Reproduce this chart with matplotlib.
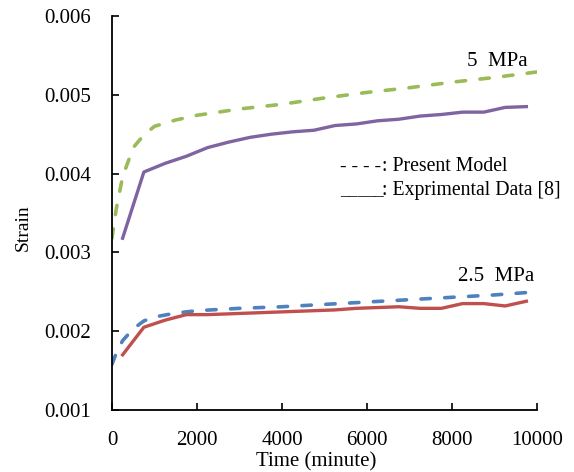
import matplotlib
matplotlib.use("Agg")
import matplotlib.pyplot as plt

# experimental data, every 500 min starting at 250
t_exp = [250, 750, 1250, 1750, 2250, 2750, 3250, 3750, 4250, 4750,
         5250, 5750, 6250, 6750, 7250, 7750, 8250, 8750, 9250, 9750]
exp_5 = [0.00318, 0.00402, 0.00413, 0.00422, 0.00433, 0.00440, 0.00446, 0.00450, 0.00453, 0.00455,
         0.00461, 0.00463, 0.00467, 0.00469, 0.00473, 0.00475, 0.00478, 0.00478, 0.00484, 0.00485]
exp_25 = [0.00170, 0.00205, 0.00214, 0.00221, 0.00221, 0.00222, 0.00223, 0.00224, 0.00225, 0.00226,
          0.00227, 0.00229, 0.00230, 0.00231, 0.00229, 0.00229, 0.00235, 0.00235, 0.00232, 0.00238]

# present model
t_mod = [0, 100, 250, 500, 750, 1000, 1500, 2000, 3000, 4000, 5000, 6000, 7000, 8000, 9000, 10000]
mod_5 = [0.00318, 0.00355, 0.00396, 0.00433, 0.00449, 0.00460, 0.00468, 0.00474, 0.00482, 0.00488,
         0.00496, 0.00503, 0.00509, 0.00516, 0.00522, 0.00529]
mod_25 = [0.00158, 0.00172, 0.00188, 0.00203, 0.00213, 0.00218, 0.00223, 0.00226, 0.00229, 0.00231,
          0.00234, 0.00237, 0.00240, 0.00243, 0.00246, 0.00250]

x_ticks = [0, 2000, 4000, 6000, 8000, 10000]
y_ticks = [0.001, 0.002, 0.003, 0.004, 0.005, 0.006]

plt.rcParams["font.family"] = ["Liberation Serif", "DejaVu Serif"]
plt.rcParams["font.size"] = 15

fig = plt.figure(figsize=(5.74, 4.72), dpi=100)
ax = fig.add_axes([0.1951, 0.1314, 0.9355 - 0.1951, 0.9661 - 0.1314])

dash_kw = dict(lw=2.6, dashes=(2.6, 4.0), dash_capstyle="round")
ax.plot(t_mod, mod_5, color="#9BBB59", **dash_kw)
ax.plot(t_exp, exp_5, color="#8064A2", lw=2.4)
ax.plot(t_mod, mod_25, color="#4F81BD", **dash_kw)
ax.plot(t_exp, exp_25, color="#C0504D", lw=2.4)

ax.set_xlim(0, 10000)
ax.set_ylim(0.001, 0.006)
ax.set_xticks(x_ticks)
ax.set_yticks(y_ticks)
ax.set_xticklabels([str(v) for v in x_ticks])
ax.set_yticklabels([f"{v:.3f}" for v in y_ticks])
ax.tick_params(direction="in", length=5, width=1.2, pad=15, labelsize=15)
for s in ["top", "right"]:
    ax.spines[s].set_visible(False)
for s in ["left", "bottom"]:
    ax.spines[s].set_linewidth(1.3)

ax.set_xlabel("Time (minute)", fontsize=15)
ax.xaxis.set_label_coords(0.48, -0.107)
ax.set_ylabel("Strain", fontsize=14)
ax.yaxis.set_label_coords(-0.188, 0.462)

ax.text(9060, 0.00542, "5  MPa", ha="center", va="center")
ax.text(9030, 0.00270, "2.5  MPa", ha="center", va="center")

# hand-written legend
ax.text(5365, 0.004037, "- - - -", fontsize=14, ha="left", va="baseline")
ax.text(6353, 0.004037, ": Present Model", fontsize=14.2, ha="left", va="baseline")
ax.text(5365, 0.003728, "_____", fontsize=12.5, ha="left", va="baseline")
ax.text(6353, 0.003728, ": Exprimental Data [8]", fontsize=14.2, ha="left", va="baseline")

fig.savefig("out.png", dpi=100)
